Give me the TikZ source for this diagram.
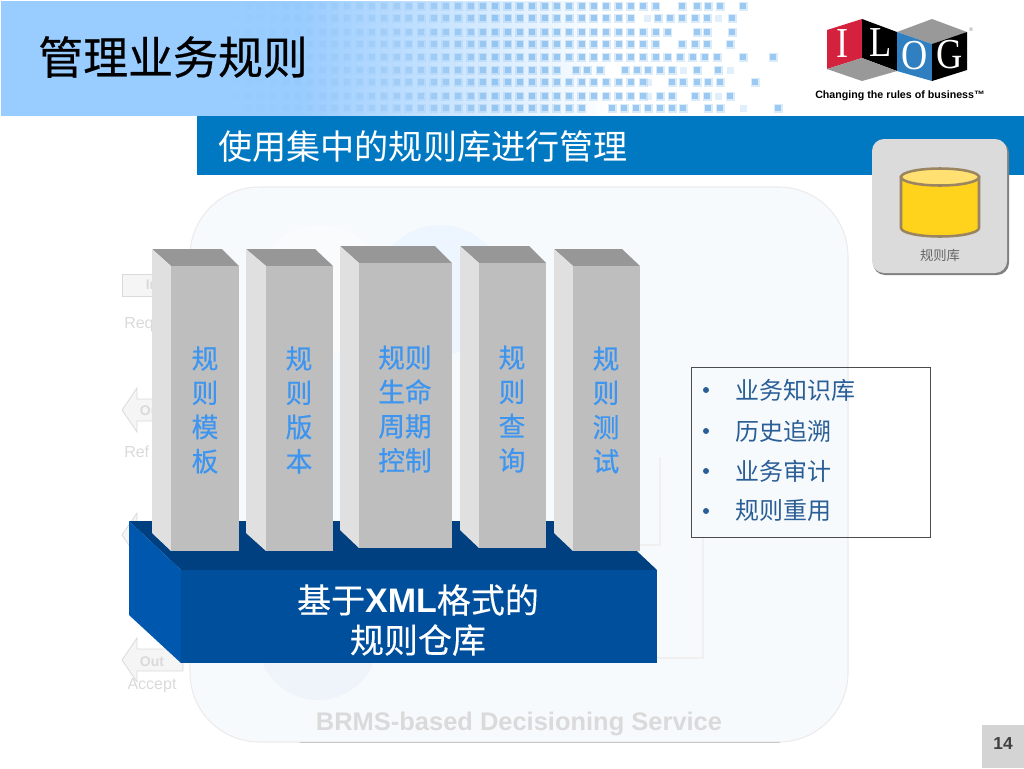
\documentclass[tikz,border=0pt]{standalone}
\usepackage{fontspec}
\setmainfont{Liberation Sans}
\newfontfamily\cjk{Noto Sans CJK SC}
\newfontfamily\cjkheavy[FakeBold=0.5]{Noto Sans CJK SC}
\newfontfamily\cjkmid[FakeBold=0.25]{Noto Sans CJK SC}
\newfontfamily\logofont{Liberation Serif}

\definecolor{headblue}{HTML}{99CCFF}
\definecolor{sqblue}{HTML}{86BDEE}
\definecolor{barblue}{HTML}{0079C2}
\definecolor{ghostline}{HTML}{F0F0F0}
\definecolor{ghosttext}{HTML}{DADADA}
\definecolor{panelfill}{HTML}{F7FAFD}
\definecolor{sidegray}{HTML}{E0E0E0}
\definecolor{frontgray}{HTML}{BEBEBE}
\definecolor{topgray}{HTML}{979797}
\definecolor{pillartext}{HTML}{3D95F0}
\definecolor{basefront}{HTML}{004F9C}
\definecolor{baseside}{HTML}{0057AE}
\definecolor{basetop}{HTML}{003F80}
\definecolor{listtext}{HTML}{2A5E96}
\definecolor{repostroke}{HTML}{9A8560}
\definecolor{repobody}{HTML}{FFD21C}
\definecolor{repotop}{HTML}{FFE070}
\definecolor{logored}{HTML}{D4213D}
\definecolor{logoblue}{HTML}{2F7FC1}
\definecolor{glowtop}{HTML}{EDF6FE}
\definecolor{glowleft}{HTML}{F9FBFD}
\definecolor{glowlow}{HTML}{EFF4FA}

\tikzset{
  ghostarrow/.style={draw=ghosttext, fill=black!4, line width=0.6pt},
  ghostlabel/.style={text=ghosttext, font=\fontsize{10.5}{12}\selectfont\bfseries, inner sep=0pt},
  ghostnote/.style={text=ghosttext, font=\fontsize{12}{14}\selectfont, inner sep=0pt},
  pillarlabel/.style={text=pillartext, align=center, inner sep=0pt, font=\cjkheavy\fontsize{20}{25.7}\selectfont},
  listitem/.style={text=listtext, anchor=west, inner sep=0pt, font=\cjk\fontsize{18}{20}\selectfont},
  listdot/.style={circle, fill=listtext, inner sep=0pt, minimum size=4.5pt},
  logoletter/.style={text=white, inner sep=0pt, font=\logofont\fontsize{32}{36}\selectfont},
}

\begin{document}
\begin{tikzpicture}[x=0.75pt, y=-0.75pt]
    \useasboundingbox (0,0) rectangle (1024,768);

    % header
    \fill[headblue] (1,1) rectangle (300,116);
    \shade[left color=headblue, right color=white, shading angle=90, draw=none] (300,1) rectangle (610,116);
    \foreach \ry/\lastk/\extra in {
        6/38/{682,697,708,720,743},
        18/36/{658,670,682,695,707,732},
        32/39/{697,707,732},
        44/38/{682,695,707,730},
        57/43/{743,773},
        70/30/{576,587,600,625,637,648,660,672,697,718},
        82/37/{672,683,697,708,720,755},
        96/37/{660,672,695,707,730},
        108/32/{612,624,636,648,660,672,683,708,720,778}} {
        \foreach \k in {4,...,\lastk} {
            \pgfmathsetmacro\sx{187+12.33*\k}
            \pgfmathsetmacro\sqop{0.75*min(1,((\sx-225)/275)^1.6)}
            \fill[sqblue, opacity=0.4*\sqop] (\sx-4.5,\ry-4.5) rectangle ++(9,9);
            \fill[sqblue, opacity=\sqop] (\sx-3,\ry-3) rectangle ++(6,6);
        }
        \foreach \sx in \extra {
            \fill[sqblue, opacity=0.3] (\sx-4.5,\ry-4.5) rectangle ++(9,9);
            \fill[sqblue, opacity=0.75] (\sx-3,\ry-3) rectangle ++(6,6);
        }
    }
    \foreach \sx/\ry in {647/18, 718/18, 683/70, 730/70, 648/82, 648/96, 718/96, 743/108}
        \fill[sqblue, opacity=0.25] (\sx-3.5,\ry-3.5) rectangle ++(7,7);
    \node[anchor=west, inner sep=0pt, font=\cjkheavy\fontsize{33.7}{36}\selectfont] (title) at (38,57) {管理业务规则};

    % logo
    \fill[logored] (827,30) -- (862,19) -- (862,58) -- (827,69) -- cycle;
    \fill[black] (862,19) -- (897,32) -- (897,71) -- (862,58) -- cycle;
    \fill[black!40] (827,69) -- (862,58) -- (897,71) -- (862,81) -- cycle;
    \fill[black!40] (897,32) -- (932,19) -- (967,32) -- (932,44) -- cycle;
    \fill[logoblue] (897,32) -- (932,44) -- (932,81) -- (897,71) -- cycle;
    \fill[black] (932,44) -- (967,32) -- (967,70) -- (932,81) -- cycle;
    \node[logoletter] (logoI) at (843,44) {\scalebox{0.85}[1]{I}};
    \node[logoletter] (logoL) at (881,43) {\scalebox{0.85}[1]{L}};
    \node[logoletter] (logoO) at (915,56) {\scalebox{0.85}[1]{O}};
    \node[logoletter] (logoG) at (950,55) {\scalebox{0.85}[1]{G}};
    \node[inner sep=0pt, text=black!50, font=\fontsize{4}{5}\selectfont] (logoR) at (971,30) {®};
    \node[inner sep=0pt, font=\fontsize{8}{10}\selectfont\bfseries] (slogan) at (900,96) {Changing the rules of business™};

    % subtitle bar
    \fill[barblue] (197,116) rectangle (1024,175);
    \node[anchor=west, inner sep=0pt, text=white, font=\cjk\fontsize{25.6}{28}\selectfont] (subtitle) at (218,147) {使用集中的规则库进行管理};

    % faded panel behind
    \draw[draw=black!8, fill=panelfill, line width=0.8pt, rounded corners=52pt] (190,187) rectangle (848,742);
    \draw[black!22, line width=0.6pt] (300,742) -- (780,742);
    \fill[glowleft] (320,290) circle (65);
    \fill[glowtop] (440,290) circle (65);
    \fill[glowlow] (318,640) circle (60);
    \draw[ghostline, line width=1.5pt] (640,545) -- (660,545) -- (660,457);
    \draw[ghostline, line width=1.5pt] (650,658) -- (703,658) -- (703,537);
    \node[text=ghosttext, inner sep=0pt, font=\fontsize{19.1}{21}\selectfont\bfseries] (service) at (519,724) {BRMS-based Decisioning Service};

    % faded arrows on the left
    \draw[ghostarrow] (122,274) rectangle (180,296);
    \node[ghostlabel] (inlbl) at (152,285) {In};
    \node[ghostnote, anchor=west] (reqlbl) at (124,325) {Req};
    \foreach \ay/\aname in {410/a, 535/b, 660/c}
        \draw[ghostarrow] (122,\ay) -- (137,\ay-22) -- (137,\ay-11) -- (183,\ay-11) -- (183,\ay+11) -- (137,\ay+11) -- (137,\ay+22) -- cycle;
    \node[ghostlabel] (outa) at (152,411) {Out};
    \node[ghostnote, anchor=west] (reflbl) at (124,452) {Ref};
    \node[ghostlabel] (outc) at (152,662) {Out};
    \node[ghostnote] (acceptlbl) at (152,686) {Accept};

    % base
    \fill[basetop] (129,521) -- (605,521) -- (657,570) -- (181,570) -- cycle;
    \fill[baseside] (129,521) -- (181,570) -- (181,663) -- (129,615) -- cycle;
    \fill[basefront] (181,570) rectangle (657,663);
    \node[text=white, align=center, inner sep=0pt, font=\cjkmid\fontsize{25.5}{30}\selectfont] (store) at (418,620) {基于{\fontspec{Liberation Sans}\bfseries XML}格式的\\规则仓库};

    % pillars
    \foreach \xa/\xb/\xc/\xd/\ya/\yb/\yc/\yd in {
        152/222/171/239/249/266/551/533,
        246/315/266/333/249/266/551/533,
        340/435/359/452/246/263/548/530,
        460/529/479/546/246/263/548/530,
        554/622/573/640/249/266/551/533} {
        \fill[topgray] (\xa,\ya) -- (\xb,\ya) -- (\xd,\yb) -- (\xc,\yb) -- cycle;
        \fill[sidegray] (\xa,\ya) -- (\xc,\yb) -- (\xc,\yc) -- (\xa,\yd) -- cycle;
        \fill[frontgray] (\xc,\yb) rectangle (\xd,\yc);
    }
    \node[pillarlabel] (tmpl) at (205,410) {规\\则\\模\\板};
    \node[pillarlabel] (vers) at (299,410) {规\\则\\版\\本};
    \node[pillarlabel] (life) at (405,409) {规则\\生命\\周期\\控制};
    \node[pillarlabel] (query) at (512,409) {规\\则\\查\\询};
    \node[pillarlabel] (test) at (606,410) {规\\则\\测\\试};

    % list box
    \draw[black!70, line width=0.6pt] (691,367) rectangle (930,537);
    \foreach \ly/\ltext/\lname in {390/业务知识库/kb, 431/历史追溯/trace, 471/业务审计/audit, 511/规则重用/reuse} {
        \node[listdot] (dot\lname) at (706,\ly) {};
        \node[listitem] (\lname) at (735,\ly) {\ltext};
    }

    % repository icon
    \fill[black!50, rounded corners=9pt] (873,141) rectangle (1009,275);
    \fill[black!14, rounded corners=9pt] (872,139) rectangle (1007,273);
    \draw[repostroke, fill=repobody, line width=1.9pt] (901,177) -- (901,228) arc[start angle=180, end angle=0, x radius=39, y radius=8.5] -- (979,177) -- cycle;
    \draw[repostroke, fill=repotop, line width=1.9pt] (940,177) ellipse (39 and 8.5);
    \node[inner sep=0pt, text=black!60, font=\cjk\fontsize{10}{12}\selectfont] (repolbl) at (940,255) {规则库};

    % page number
    \fill[black!17] (982,725) rectangle (1024,768);
    \node[inner sep=0pt, text=black!75, font=\fontsize{13}{14}\selectfont\bfseries] (pagenum) at (1003,744) {14};
\end{tikzpicture}
\end{document}
